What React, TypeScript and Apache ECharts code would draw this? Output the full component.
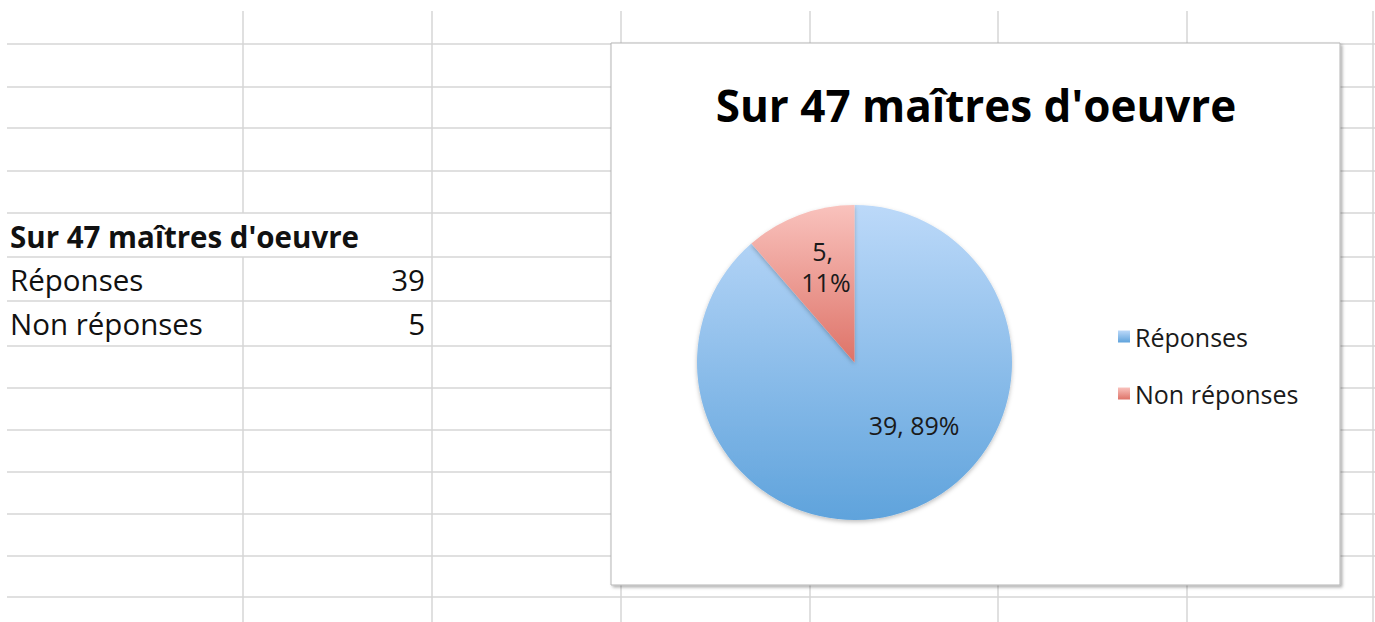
import React, { useEffect, useRef } from "react";
import * as echarts from "echarts";

// ---- data ----
const chartTitle = "Sur 47 maîtres d'oeuvre";
const categories = ["Réponses", "Non réponses"];
const values = [39, 5];

// ---- layout (spreadsheet grid) ----
const rowLines = [44, 87, 128, 171, 213, 257, 301, 346, 388, 430, 472, 514, 556, 597];
const colLines = [243, 432, 621, 810, 998, 1187, 1373];
const FONT = "'Open Sans', Lato, sans-serif";

const sliceGradients = [
  ["#bcd9f9", "#5fa3dc"],
  ["#f9c2bd", "#de7368"],
];
const labelShift = [
  { dx: 31, dy: -14 },
  { dx: 0, dy: -19 },
];

export default function App() {
  const ref = useRef<HTMLDivElement>(null);
  useEffect(() => {
    if (!ref.current) return;
    const chart = echarts.init(ref.current, undefined, { renderer: "svg" });

    const gridColor = "#d6d6d6";
    const elements: any[] = [];
    rowLines.forEach((y) => {
      elements.push({
        type: "line",
        z: 0,
        shape: { x1: 7, y1: y, x2: 1375, y2: y },
        style: { stroke: gridColor, lineWidth: 1.5 },
      });
    });
    colLines.forEach((x) => {
      const segs = x === 243 ? [[11, 213], [257, 622]] : [[11, 622]];
      segs.forEach(([a, b]) =>
        elements.push({
          type: "line",
          z: 0,
          shape: { x1: x, y1: a, x2: x, y2: b },
          style: { stroke: gridColor, lineWidth: 1.5 },
        })
      );
    });
    // chart frame
    elements.push({
      type: "rect",
      z: 1,
      shape: { x: 611, y: 43, width: 729, height: 542 },
      style: {
        fill: "#ffffff",
        stroke: "#b5b5b5",
        lineWidth: 1,
        shadowBlur: 3,
        shadowOffsetX: 2,
        shadowOffsetY: 2,
        shadowColor: "rgba(0,0,0,0.3)",
      },
    });
    // table
    const tStyle = { fontFamily: FONT, fontSize: 29.5, fill: "#111" };
    elements.push({
      type: "text",
      z: 1,
      x: 10,
      y: 236,
      style: { ...tStyle, text: chartTitle, fontWeight: "bold", verticalAlign: "middle" },
    });
    categories.forEach((c, i) => {
      const y = 279 + i * 44;
      elements.push({
        type: "text",
        z: 1,
        x: 10,
        y,
        style: { ...tStyle, text: c, verticalAlign: "middle" },
      });
      elements.push({
        type: "text",
        z: 1,
        x: 425,
        y,
        style: { ...tStyle, text: String(values[i]), align: "right", verticalAlign: "middle" },
      });
    });

    const data = categories.map((name, i) => ({
      name,
      value: values[i],
      itemStyle: {
        color: new echarts.graphic.LinearGradient(0, 0, 0, 1, [
          { offset: 0, color: sliceGradients[i][0] },
          { offset: 1, color: sliceGradients[i][1] },
        ]),
      },
      label: i === 1 ? { width: 58, overflow: "break" } : {},
    }));

    chart.setOption({
      animation: false,
      backgroundColor: "#ffffff",
      title: {
        text: chartTitle,
        left: 971,
        top: 78,
        textAlign: "center",
        textStyle: { fontFamily: FONT, fontSize: 44, fontWeight: "bold", color: "#000" },
      },
      legend: {
        orient: "vertical",
        left: 1113,
        top: 319,
        icon: "rect",
        itemWidth: 12,
        itemHeight: 12,
        itemGap: 32,
        data: categories,
        textStyle: { fontFamily: FONT, fontSize: 25, color: "#1a1a1a" },
      },
      graphic: { elements },
      series: [
        {
          type: "pie",
          center: [854.5, 362.5],
          radius: 157.5,
          startAngle: 90,
          clockwise: true,
          percentPrecision: 0,
          data,
          itemStyle: {
            shadowBlur: 4,
            shadowOffsetY: 2,
            shadowColor: "rgba(0,0,0,0.25)",
          },
          label: {
            show: true,
            position: "inside",
            formatter: "{c}, {d}%",
            fontFamily: FONT,
            fontSize: 25,
            color: "#1a1a1a",
            lineHeight: 31,
            align: "center",
          },
          labelLine: { show: false },
          labelLayout: (p: any) => labelShift[p.dataIndex],
          emphasis: { disabled: true },
        },
      ],
    });
    return () => chart.dispose();
  }, []);
  return (
    <div
      ref={ref}
      style={{ position: "fixed", left: 0, top: 0, width: 1375, height: 622 }}
    />
  );
}
